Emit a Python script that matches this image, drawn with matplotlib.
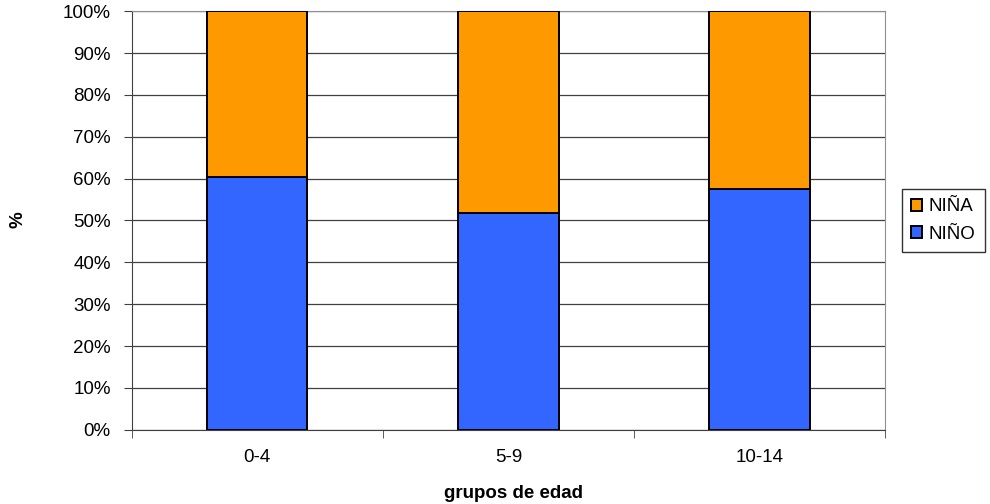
import matplotlib.pyplot as plt
import numpy as np

# datos
grupos = ['0-4', '5-9', '10-14']
nino = [60.5, 51.7, 57.5]
nina = [39.5, 48.3, 42.5]

plt.rcParams['font.family'] = ['Liberation Sans', 'DejaVu Sans']
fs = 13.5

fig = plt.figure(figsize=(9.9, 5.04), dpi=100)
ax = fig.add_axes([0.133, 0.1474, 0.761, 0.8304])

x = np.arange(len(grupos))
b1 = ax.bar(x, nino, width=0.4, color='#3366FF', edgecolor='black', linewidth=1.4, label='NIÑO', zorder=3)
b2 = ax.bar(x, nina, width=0.4, bottom=nino, color='#FF9900', edgecolor='black', linewidth=1.4, label='NIÑA', zorder=3)

ax.set_xlim(-0.5, 2.5)
ax.set_ylim(0, 100)
ax.set_yticks(np.arange(0, 101, 10))
ax.set_yticklabels(['%d%%' % v for v in range(0, 101, 10)], fontsize=fs)
ax.yaxis.grid(True, color='#404040', linewidth=0.9, zorder=0)

ax.set_xticks(x)
ax.set_xticklabels(grupos, fontsize=fs)
ax.tick_params(axis='x', length=0, pad=14)
ax.set_xticks([-0.5, 0.5, 1.5, 2.5], minor=True)
ax.tick_params(axis='x', which='minor', length=6, color='#404040')
ax.tick_params(axis='y', length=6, color='#404040', pad=9)

for s in ['left', 'bottom']:
    ax.spines[s].set_color('#404040')
for s in ['top', 'right']:
    ax.spines[s].set_color('#909090')

# titulos de ejes
fig.text(18 / 990, 1 - 220 / 504, '%', fontsize=fs, fontweight='bold', rotation=90, ha='center', va='center')
fig.text(513 / 990, 1 - 494 / 504, 'grupos de edad', fontsize=fs, fontweight='bold', ha='center', va='center')

handles = [b2, b1]
leg = ax.legend(handles, ['NIÑA', 'NIÑO'], loc='center left', bbox_to_anchor=(1.022, 0.5),
                fontsize=fs, frameon=True, fancybox=False, edgecolor='black',
                handlelength=0.6, handleheight=0.6, handletextpad=0.35, borderpad=0.5,
                labelspacing=0.55, borderaxespad=0)
leg.get_frame().set_linewidth(1.0)

fig.savefig('out.png', dpi=100)
